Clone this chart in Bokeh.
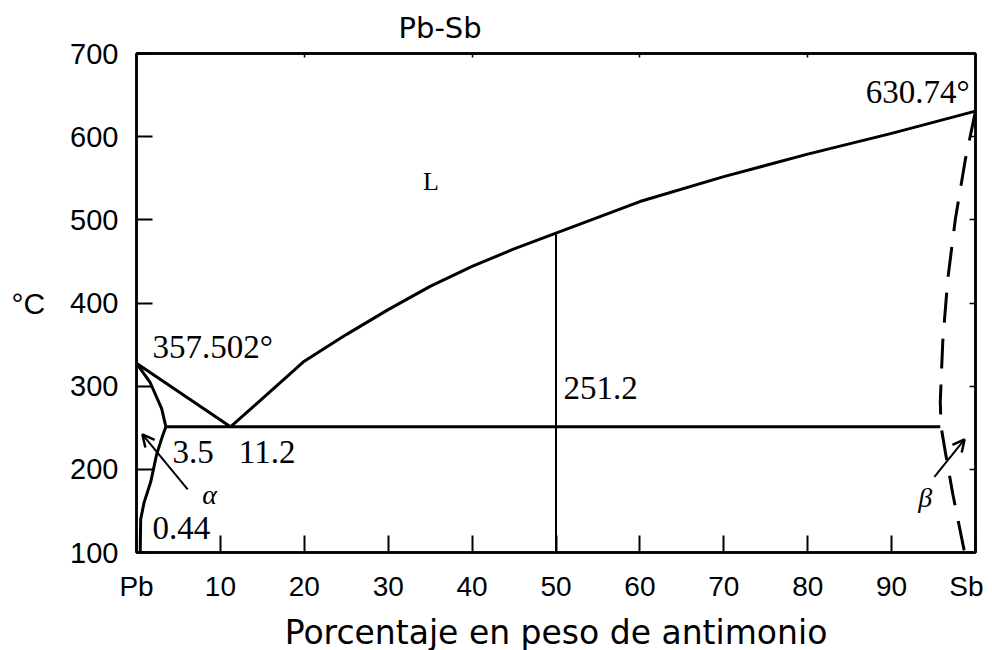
from bokeh.plotting import figure
from bokeh.models import Range1d, LinearAxis, FixedTicker, Arrow, OpenHead
from bokeh.embed import file_html
from bokeh.resources import INLINE
from bokeh.core.properties import value

# ---- data (weight % Sb, temperature °C) ----
x_ticks = [0, 10, 20, 30, 40, 50, 60, 70, 80, 90, 100]
x_tick_labels = {0: "Pb", 100: "Sb"}
y_ticks = [100, 200, 300, 400, 500, 600, 700]
right_ticks = [200, 300, 400, 500, 600]
top_ticks = [20, 40, 60, 80]

liq_left_x = [0.0, 11.2]
liq_left_t = [327.5, 251.2]

liq_right_x = [11.2, 15, 20, 25, 30, 35, 40, 45, 50, 60, 70, 80, 90, 100]
liq_right_t = [251.2, 285, 330, 362, 392, 420, 444, 465, 484, 522, 552, 579, 604, 630.74]

sol_a_x = [0.0, 1.6, 3.0, 3.5]
sol_a_t = [327.5, 305, 273, 251.2]

solv_a_x = [3.5, 3.1, 2.4, 1.7, 0.9, 0.5, 0.44]
solv_a_t = [251.2, 240, 218, 185, 160, 140, 100]

eut_x = [3.5, 95.8]
eut_t = [251.2, 251.2]

vert_x = [50, 50]
vert_t = [100, 484]

beta_x = [100, 98.8, 97.6, 96.7, 96.1, 95.8, 95.9, 96.4, 97.3, 98.7]
beta_t = [630.74, 573, 501, 429, 354, 281, 251.2, 221, 170, 100]

alpha_arrow = dict(x_start=6.1, y_start=176, x_end=0.7, y_end=242)
beta_arrow = dict(x_start=95.1, y_start=191, x_end=98.7, y_end=236)

ann_left_text = ["357.502°", "3.5", "11.2", "0.44", "251.2"]
ann_left_x = [1.9, 4.3, 12.2, 1.9, 50.9]
ann_left_t = [347, 221, 221, 129, 298]

ann_center_text = ["L"]
ann_center_x = [35.1]
ann_center_t = [546]

ann_right_text = ["630.74°"]
ann_right_x = [99.3]
ann_right_t = [654]

greek_text = ["α", "β"]
greek_x = [8.7, 94.0]
greek_t = [170, 166]

# ---- figure ----
p = figure(frame_width=839, frame_height=499,
           x_range=Range1d(0, 100), y_range=Range1d(100, 700),
           output_backend="svg", toolbar_location=None,
           min_border_left=136, min_border_top=53, min_border_right=8,
           min_border_bottom=88,
           background_fill_color="white", border_fill_color="white")

p.grid.visible = False
p.outline_line_color = "black"
p.outline_line_width = 2.5

p.title.text = "Pb-Sb"
p.title.align = "left"
p.title.offset = 262
p.title.standoff = 17
p.title.text_font = "DejaVu Sans"
p.title.text_font_size = "29px"
p.title.text_font_style = "normal"
p.title.text_color = "black"

xa = p.xaxis[0]
xa.ticker = FixedTicker(ticks=x_ticks)
xa.major_label_overrides = x_tick_labels
xa.major_tick_in = 17
xa.major_tick_out = 0
xa.minor_tick_line_color = None
xa.major_tick_line_width = 2
xa.axis_line_width = 2.5
xa.major_label_standoff = 18
xa.major_label_text_font = "Liberation Sans"
xa.major_label_text_font_size = "28px"
xa.major_label_text_color = "black"
xa.axis_label = "Porcentaje en peso de antimonio"
xa.axis_label_text_font = "DejaVu Sans"
xa.axis_label_text_font_size = "33px"
xa.axis_label_text_font_style = "normal"
xa.axis_label_text_color = "black"
xa.axis_label_standoff = 8

ya = p.yaxis[0]
ya.ticker = FixedTicker(ticks=y_ticks)
ya.major_tick_in = 16
ya.major_tick_out = 0
ya.minor_tick_line_color = None
ya.major_tick_line_width = 2
ya.axis_line_width = 2.5
ya.major_label_standoff = 18
ya.major_label_text_font = "Liberation Sans"
ya.major_label_text_font_size = "29px"
ya.major_label_text_color = "black"
ya.axis_label = "°C"
ya.axis_label_orientation = "horizontal"
ya.axis_label_text_font = "Liberation Sans"
ya.axis_label_text_font_size = "30px"
ya.axis_label_text_font_style = "normal"
ya.axis_label_text_color = "black"
ya.axis_label_standoff = 22

right_axis = LinearAxis(ticker=FixedTicker(ticks=right_ticks),
                        major_label_overrides={t: "" for t in right_ticks},
                        major_tick_in=6, major_tick_out=0, minor_tick_line_color=None,
                        major_label_standoff=0,
                        axis_line_width=2.5, major_tick_line_width=1.5)
p.add_layout(right_axis, "right")
top_axis = LinearAxis(ticker=FixedTicker(ticks=top_ticks),
                      major_label_overrides={t: "" for t in top_ticks},
                      major_tick_in=4, major_tick_out=0, minor_tick_line_color=None,
                      major_label_standoff=0,
                      axis_line_width=2.5, major_tick_line_width=1.5)
p.add_layout(top_axis, "above")

lw = 3
for xs, ts in [(liq_left_x, liq_left_t), (liq_right_x, liq_right_t),
               (sol_a_x, sol_a_t), (solv_a_x, solv_a_t),
               (eut_x, eut_t)]:
    p.line(xs, ts, line_color="black", line_width=lw, line_join="round")
p.line(vert_x, vert_t, line_color="black", line_width=2)
p.line(beta_x, beta_t, line_color="black", line_width=lw, line_dash="30 16")

for a in (alpha_arrow, beta_arrow):
    p.add_layout(Arrow(end=OpenHead(size=12, line_width=2.5), line_width=2, **a))

p.text(ann_left_x, ann_left_t, text=ann_left_text, text_font=value("Liberation Serif"),
       text_font_size="33px", text_align="left", text_baseline="middle", text_color="black")
p.text(ann_center_x, ann_center_t, text=ann_center_text, text_font=value("Liberation Serif"),
       text_font_size="26px", text_align="center", text_baseline="middle", text_color="black")
p.text(ann_right_x, ann_right_t, text=ann_right_text, text_font=value("Liberation Serif"),
       text_font_size="33px", text_align="right", text_baseline="middle", text_color="black")
p.text(greek_x, greek_t, text=greek_text, text_font=value("Liberation Serif"),
       text_font_size="28px", text_font_style="italic", text_align="center",
       text_baseline="middle", text_color="black")

open("out.html", "w").write(file_html(p, INLINE))
